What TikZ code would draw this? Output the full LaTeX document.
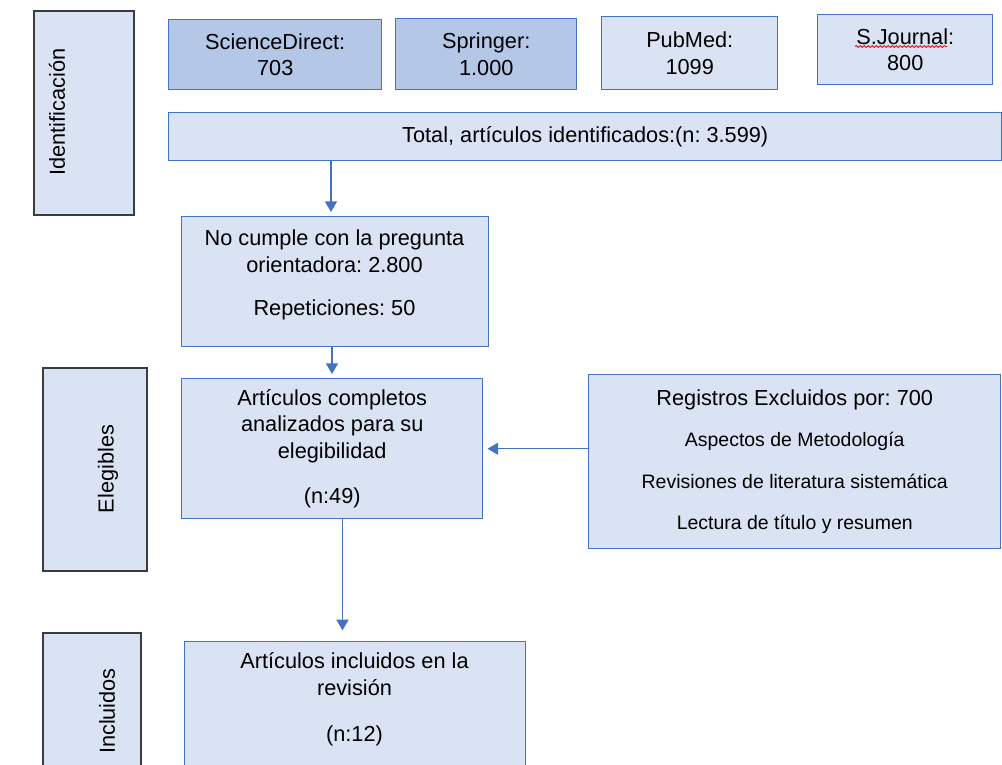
\documentclass[tikz,border=0pt]{standalone}
\usepackage{fontspec}
\setmainfont{Liberation Sans}
\usetikzlibrary{arrows.meta,decorations.pathmorphing}
\definecolor{lightfill}{HTML}{DAE3F3}
\definecolor{darkfill}{HTML}{B4C7E7}
\definecolor{boxblue}{HTML}{4472C4}
\definecolor{sidegray}{HTML}{3C3C3C}
\newcommand{\pxl}[1]{#1*0.75pt}
\newcommand{\smalltxt}{\fontsize{14.6}{19.75}\selectfont}
\frenchspacing
\begin{document}
\begin{tikzpicture}[x=0.75pt,y=-0.75pt,
  font=\fontsize{16.3}{20}\selectfont\frenchspacing,
  box/.style={draw=boxblue, line width=1.1pt, fill=lightfill, inner sep=0pt, align=center, anchor=north west},
  darkbox/.style={box, fill=darkfill},
  sidebox/.style={draw=sidegray, line width=1.5pt, fill=lightfill, inner sep=0pt, anchor=north west},
  sidetext/.style={rotate=90, inner sep=0pt},
  txt/.style={align=center, inner sep=0pt},
  arr/.style={draw=boxblue, line width=1.1pt, -{Triangle[width=9pt,length=8pt]}, shorten >=3pt}]
\useasboundingbox (0,0) rectangle (1002,764);
\clip (0,0) rectangle (1002,764);
\fill[white] (0,0) rectangle (1002,764);

% side boxes
\node[sidebox, minimum width=\pxl{100}, minimum height=\pxl{204}] (ident) at (33,10) {};
\node[sidetext] (identt) at (57,112) {Identificación};
\node[sidebox, minimum width=\pxl{104}, minimum height=\pxl{203}] (elig) at (42,367) {};
\node[sidetext] (eligt) at (108,469) {Elegibles};
\node[sidebox, minimum width=\pxl{98}, minimum height=\pxl{160}] (incl) at (42,632) {};
\node[sidetext] (inclt) at (107,711) {Incluidos};

% source boxes
\node[darkbox, minimum width=\pxl{213}, minimum height=\pxl{70}] (sd) at (168,19) {ScienceDirect:\\703};
\node[darkbox, minimum width=\pxl{181}, minimum height=\pxl{71}] (spr) at (395,18) {Springer:\\1.000};
\node[box, minimum width=\pxl{176}, minimum height=\pxl{73}] (pub) at (601,16) {PubMed:\\1099};
\node[box, minimum width=\pxl{175}, minimum height=\pxl{70}] (sj) at (817,14) {S.Journal:\\800};
\draw[red, line width=0.6pt, decorate, decoration={snake, amplitude=0.7pt, segment length=3pt}] (855,46.5) -- (947,46.5);

% total
\node[box, minimum width=\pxl{833}, minimum height=\pxl{48}] (total) at (168,112) {Total, artículos identificados:(n: 3.599)};

% no cumple
\node[box, minimum width=\pxl{307}, minimum height=\pxl{130}] (nocumple) at (181,216) {};
\node[txt] (nocumplet) at (334.5,275) {No cumple con la pregunta\\orientadora: 2.800\\[12.5pt]Repeticiones: 50};

% articulos completos
\node[box, minimum width=\pxl{301}, minimum height=\pxl{140}] (art) at (181,378) {Artículos completos\\analizados para su\\elegibilidad\\[14pt](n:49)};

% registros excluidos
\node[box, minimum width=\pxl{412}, minimum height=\pxl{174}] (reg) at (588,374) {Registros Excluidos por: 700\\[11pt]{\smalltxt Aspectos de Metodología}\\[11pt]{\smalltxt Revisiones de literatura sistemática}\\[11pt]{\smalltxt Lectura de título y resumen}};

% incluidos
\node[box, minimum width=\pxl{341}, minimum height=\pxl{160}] (inc) at (184,641) {};
\node[txt] (inct) at (354.5,699) {Artículos incluidos en la\\revisión\\[14.5pt](n:12)};

% arrows
\draw[arr] (total.south -| 331,0) -- (nocumple.north -| 331,0);
\draw[arr] (nocumple.south -| 332,0) -- (art.north -| 332,0);
\draw[arr] (reg.west |- art.east) -- (art.east);
\draw[arr, shorten >=8pt] (art.south -| 342.5,0) -- (inc.north -| 342.5,0);
\end{tikzpicture}
\end{document}
